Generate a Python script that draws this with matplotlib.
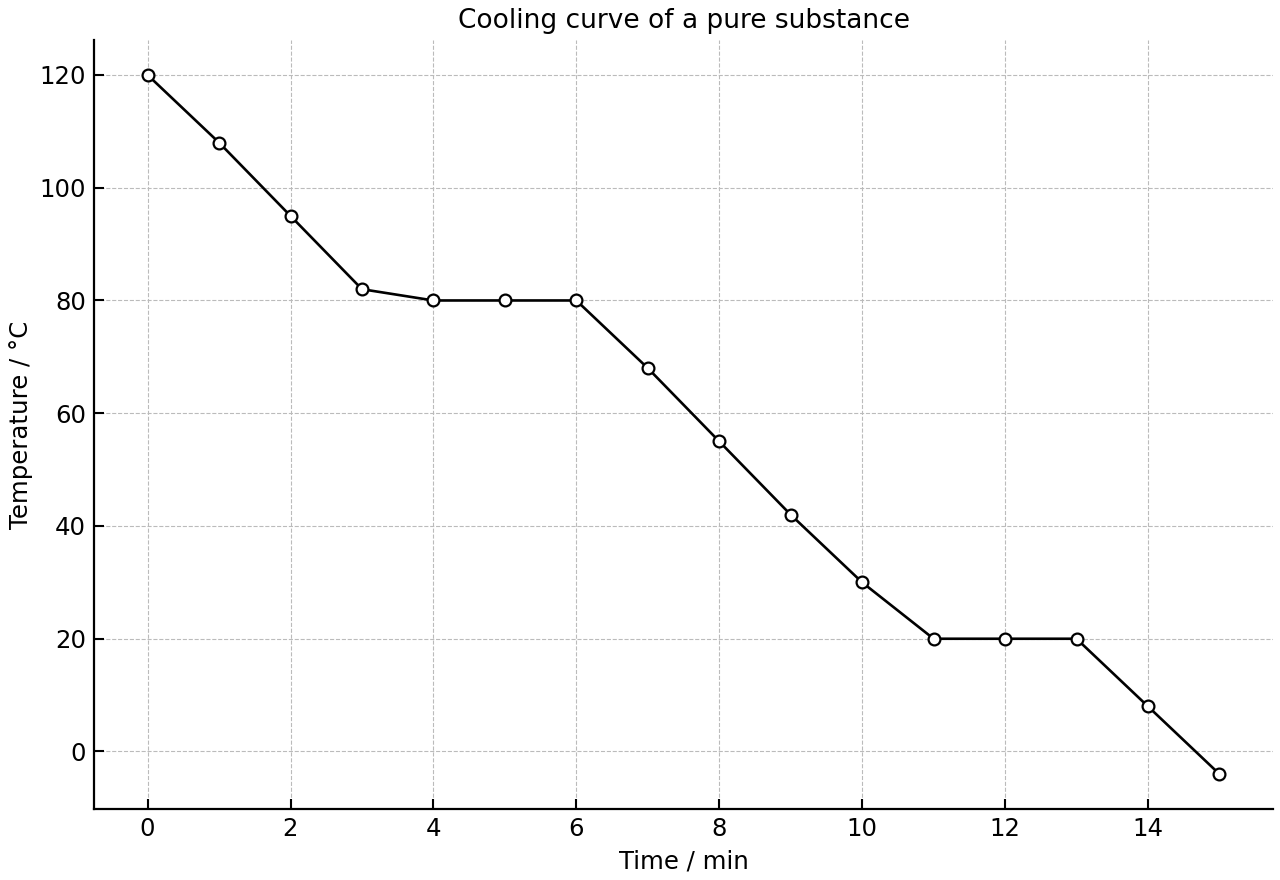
import matplotlib
matplotlib.use("Agg")
import matplotlib.pyplot as plt

# data
time_min = [0, 1, 2, 3, 4, 5, 6, 7, 8, 9, 10, 11, 12, 13, 14, 15]
temp_c = [120, 108, 95, 82, 80, 80, 80, 68, 55, 42, 30, 20, 20, 20, 8, -4]


def show():
    fig = plt.figure(figsize=(12.8, 8.8), dpi=100)
    ax = fig.add_axes([94 / 1280, 1 - 809 / 880, (1273 - 94) / 1280, (809 - 40) / 880])

    ax.plot(time_min, temp_c, color="black", linewidth=1.9, marker="o",
            markersize=8.5, markerfacecolor="white", markeredgecolor="black",
            markeredgewidth=1.6, zorder=3)

    ax.set_title("Cooling curve of a pure substance", fontsize=19, pad=9)
    ax.set_xlabel("Time / min", fontsize=17.6, labelpad=6)
    ax.set_ylabel("Temperature / °C", fontsize=17.6, labelpad=5)
    ax.set_xticks(range(0, 16, 2))
    ax.tick_params(direction="in", labelsize=17.6, width=1.5, length=7, pad=5.6)

    ax.grid(True, linestyle="--", color="#bbbbbb", linewidth=0.8)
    ax.spines["top"].set_visible(False)
    ax.spines["right"].set_visible(False)
    ax.spines["left"].set_linewidth(1.6)
    ax.spines["bottom"].set_linewidth(1.6)

    fig.savefig("out.png", dpi=100)


if __name__ == "__main__":
    show()
